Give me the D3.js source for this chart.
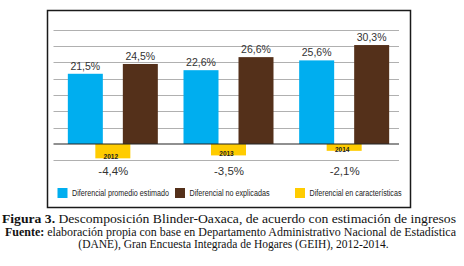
<!DOCTYPE html>
<html><head><meta charset="utf-8">
<script src="https://cdn.jsdelivr.net/npm/d3@7"></script>
<style>body{margin:0;background:#fff}svg{display:block}</style>
</head><body>
<svg id="c" width="464" height="266"></svg>
<script>
const years = ["2012", "2013", "2014"];
const promedio = [21.5, 22.6, 25.6];
const noExplicada = [24.5, 26.6, 30.3];
const caracteristicas = [-4.4, -3.5, -2.1];
const yTicks = [-5, 0, 5, 10, 15, 20, 25, 30, 35];
const seriesNames = ["Diferencial promedio estimado", "Diferencial no explicadas", "Diferencial en características"];
const seriesKeys = ["promedio", "caracteristicas", "noExplicada"];
const colors = {promedio: "#00aeef", noExplicada: "#54301a", caracteristicas: "#ffcc00"};

const fmt = v => d3.format(".1f")(v).replace(".", ",").replace("\u2212", "-") + "%";

const svg = d3.select("#c");
const y = d3.scaleLinear().domain([-5, 35]).range([160.3, 29.7]);
const x0 = d3.scaleBand().domain(years).range([54.5, 401.5]);
const xs = d3.scalePoint().domain(seriesKeys).range([-27, 28]);
const bw = 35;

// frame
svg.append("rect").attr("x", 47.5).attr("y", 10.5).attr("width", 363).attr("height", 197)
  .attr("fill", "#fff").attr("stroke", "#1a1a1a").attr("stroke-width", 1.5);

// grid
svg.append("g").selectAll("line").data(yTicks.filter(t => t !== 0)).join("line")
  .attr("x1", 53.5).attr("x2", 399).attr("y1", d => Math.round(y(d)) + 0.5).attr("y2", d => Math.round(y(d)) + 0.5)
  .attr("stroke", "#b0b0b0").attr("stroke-width", 1);

const cx = (yr, key) => x0(yr) + x0.bandwidth() / 2 + xs(key);

const data = {promedio, noExplicada, caracteristicas};
["promedio", "noExplicada", "caracteristicas"].forEach(key => {
  svg.append("g").selectAll("rect").data(years).join("rect")
    .attr("x", (d) => cx(d, key) - bw / 2)
    .attr("y", (d, i) => y(Math.max(0, data[key][i])))
    .attr("width", bw)
    .attr("height", (d, i) => Math.abs(y(data[key][i]) - y(0)))
    .attr("fill", colors[key]);
});

// zero line
svg.append("line").attr("x1", 53.5).attr("x2", 399).attr("y1", y(0)).attr("y2", y(0))
  .attr("stroke", "#222").attr("stroke-width", 1.2);

// value labels on positive bars
["promedio", "noExplicada"].forEach(key => {
  svg.append("g").selectAll("text").data(years).join("text")
    .attr("x", d => cx(d, key))
    .attr("y", (d, i) => y(data[key][i]) - 4)
    .attr("text-anchor", "middle")
    .attr("font-family", "Liberation Sans, Arial, sans-serif")
    .attr("font-size", 10.5).attr("fill", "#333")
    .text((d, i) => fmt(data[key][i]));
});

// year labels inside yellow bars
svg.append("g").selectAll("text").data(years).join("text")
  .attr("x", d => cx(d, "caracteristicas") - 2)
  .attr("y", (d, i) => y(caracteristicas[i]) + 1)
  .attr("text-anchor", "middle")
  .attr("font-family", "Liberation Sans, Arial, sans-serif")
  .attr("font-weight", "bold")
  .attr("font-size", 6.5).attr("fill", "#222")
  .text(d => d);

// negative value labels
svg.append("g").selectAll("text").data(years).join("text")
  .attr("x", d => x0(d) + x0.bandwidth() / 2 + 1)
  .attr("y", 174.5)
  .attr("text-anchor", "middle")
  .attr("font-family", "Liberation Sans, Arial, sans-serif")
  .attr("font-size", 11.5).attr("fill", "#333")
  .text((d, i) => fmt(caracteristicas[i]));

// legend
const legendX = [57.5, 175, 295];
const legendTextW = [97, 80, 92];
const legendColors = [colors.promedio, colors.noExplicada, colors.caracteristicas];
const lg = svg.append("g").selectAll("g").data(seriesNames).join("g")
  .attr("transform", (d, i) => `translate(${legendX[i]},188)`);
lg.append("rect").attr("width", 10).attr("height", 10).attr("fill", (d, i) => legendColors[i]);
lg.append("text").attr("x", 14.5).attr("y", 8)
  .attr("font-family", "Liberation Sans Narrow, Arial Narrow, Liberation Sans, sans-serif")
  .attr("font-size", 8.5).attr("fill", "#222")
  .attr("textLength", (d, i) => legendTextW[i]).attr("lengthAdjust", "spacingAndGlyphs")
  .text(d => d);

// caption
const cap = svg.append("g").attr("font-family", "Liberation Serif, Times New Roman, serif").attr("fill", "#111");
const t1 = cap.append("text").attr("x", 2).attr("y", 222.5).attr("font-size", 13.5)
  .attr("textLength", 454).attr("lengthAdjust", "spacingAndGlyphs");
t1.append("tspan").attr("font-weight", "bold").text("Figura 3.");
t1.append("tspan").text(" Descomposición Blinder-Oaxaca, de acuerdo con estimación de ingresos");
const t2 = cap.append("text").attr("x", 5).attr("y", 235.5).attr("font-size", 11.5)
  .attr("textLength", 451).attr("lengthAdjust", "spacingAndGlyphs");
t2.append("tspan").attr("font-weight", "bold").text("Fuente:");
t2.append("tspan").text(" elaboración propia con base en Departamento Administrativo Nacional de Estadística");
cap.append("text").attr("x", 233.5).attr("y", 248).attr("font-size", 11.5).attr("text-anchor", "middle")
  .text("(DANE), Gran Encuesta Integrada de Hogares (GEIH), 2012-2014.");
</script>
</body></html>
